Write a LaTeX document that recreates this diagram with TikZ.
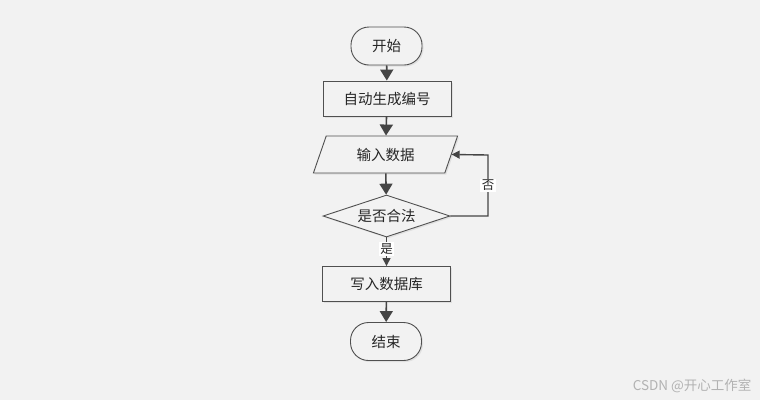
\documentclass[tikz,border=0pt]{standalone}
\usepackage{fontspec}
\newfontfamily\cjk{Noto Sans CJK SC}
\usetikzlibrary{shapes.geometric,arrows.meta,shadows}
\definecolor{bg}{HTML}{F2F2F2}
\definecolor{ln}{HTML}{454545}
\definecolor{bd}{HTML}{505050}
\begin{document}
\begin{tikzpicture}[x=1pt,y=-1pt,
  base/.style={draw=bd,line width=0.9pt,fill=bg,text=black!85,
    font=\cjk\fontsize{14.5}{16}\selectfont,inner sep=0pt,
    drop shadow={shadow xshift=1.5pt,shadow yshift=-1.5pt,fill=black!12,opacity=1}},
  term/.style={base,rectangle,rounded corners=18pt,minimum width=71pt,minimum height=38pt},
  procbox/.style={base,rectangle,minimum width=128pt,minimum height=35pt},
  iobox/.style={base,trapezium,trapezium left angle=65,trapezium right angle=115,
    trapezium stretches=true,minimum width=145pt,minimum height=37pt},
  decbox/.style={base,diamond,shape aspect=3,minimum width=127pt,minimum height=42pt},
  flow/.style={draw=ln,line width=1.6pt,-{Triangle[length=11pt,width=13pt]}},
  thin/.style={draw=ln,line width=1.4pt,-{Triangle[length=8pt,width=8pt]}},
  lbl/.style={fill=white,inner sep=1.5pt,font=\cjk\fontsize{12.5}{14}\selectfont,text=black!85}]
\fill[bg] (0,0) rectangle (760,400);
\useasboundingbox (0,0) rectangle (760,400);

\node[term] (start) at (386.5,46) {开始};
\node[procbox] (gen) at (387,98.5) {自动生成编号};
\node[iobox] (in) at (385.5,154.5) {输入数据};
\node[decbox] (chk) at (386.5,216) {是否合法};
\node[procbox] (db) at (386.5,284) {写入数据库};
\node[term] (end) at (386,341.5) {结束};

\draw[flow] (start) -- (gen);
\draw[flow] (gen) -- (in);
\draw[flow] (in) -- (chk);
\draw[thin] (chk.south) -- node[lbl,pos=0.42] (yes) {是} (db.north);
\draw[flow] (db) -- (end);
\coordinate (c1) at (488,216);
\coordinate (c2) at (488,155);
\draw[thin] (chk.east) -- (c1) -- node[lbl,pos=0.5] (no) {否} (c2) -- (in.east);

\node[anchor=east,text=black!30,font=\cjk\fontsize{13.5}{15}\selectfont] (wm) at (755,386) {CSDN @开心工作室};
\end{tikzpicture}
\end{document}
